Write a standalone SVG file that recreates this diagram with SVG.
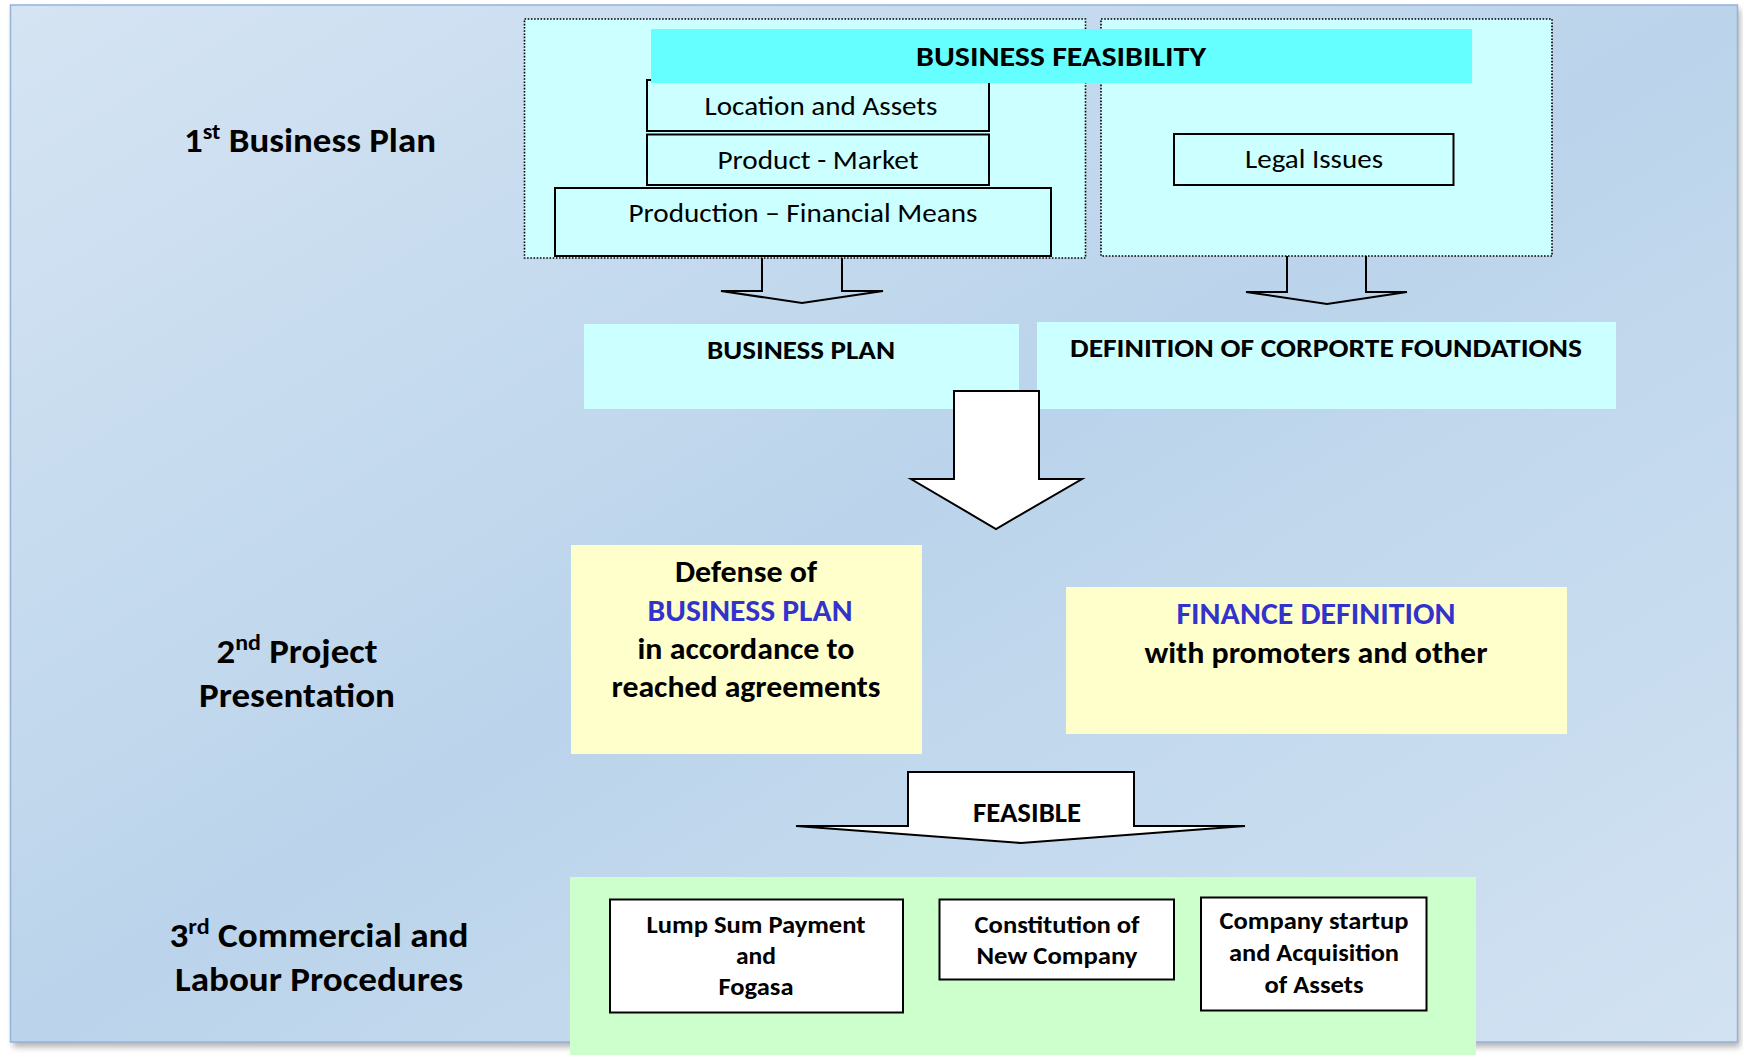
<svg xmlns="http://www.w3.org/2000/svg" width="1743" height="1055" viewBox="0 0 1743 1055">
<defs>
<linearGradient id="bg" x1="0" y1="0" x2="1" y2="1">
<stop offset="0" stop-color="#d5e4f3"/>
<stop offset="0.5" stop-color="#bbd4eb"/>
<stop offset="1" stop-color="#d2e2f2"/>
</linearGradient>
<filter id="sh" x="-5%" y="-5%" width="110%" height="110%">
<feGaussianBlur stdDeviation="3"/>
</filter>
<style>
text{font-family:Carlito,Calibri,Lato,"Liberation Sans",sans-serif;fill:#000;text-anchor:middle}
.b{font-weight:bold}
.blue{fill:#3333cc}
.dot{fill:#ccffff;stroke:#000;stroke-width:1.6;stroke-dasharray:1.6 1.6}
.box{fill:#ccffff;stroke:#000;stroke-width:2}
.wbox{fill:#fff;stroke:#000;stroke-width:2}
.arr{fill:none;stroke:#000;stroke-width:2;stroke-linejoin:miter}
.warr{fill:#fff;stroke:#000;stroke-width:2}
.sup{font-size:65%;baseline-shift:super}
</style>
</defs>
<g id="background">
<rect x="13" y="9" width="1727" height="1038" fill="#7f7f7f" opacity="0.6" filter="url(#sh)"/>
<rect x="10.5" y="5" width="1727" height="1037" fill="url(#bg)" stroke="#95b3d7" stroke-width="1.5"/>
</g>
<g id="stage-labels">
<text class="b" x="310" y="152" font-size="34" textLength="252" lengthAdjust="spacingAndGlyphs">1<tspan class="sup">st</tspan> Business Plan</text>
<text class="b" x="297" y="663" font-size="34" textLength="161" lengthAdjust="spacingAndGlyphs">2<tspan class="sup">nd</tspan> Project</text>
<text class="b" x="297" y="707" font-size="34" textLength="196" lengthAdjust="spacingAndGlyphs">Presentation</text>
<text class="b" x="319" y="947" font-size="34" textLength="299" lengthAdjust="spacingAndGlyphs">3<tspan class="sup">rd</tspan> Commercial and</text>
<text class="b" x="319" y="991" font-size="34" textLength="288" lengthAdjust="spacingAndGlyphs">Labour Procedures</text>
</g>
<g id="feasibility-left">
<rect class="dot" x="524.5" y="19" width="561" height="239"/>
</g>
<g id="feasibility-right">
<rect class="dot" x="1101" y="19" width="451" height="237"/>
</g>
<g id="location-assets">
<rect class="box" x="647" y="80" width="342" height="51"/>
<text x="821" y="115" font-size="27" textLength="233" lengthAdjust="spacingAndGlyphs">Location and Assets</text>
</g>
<g id="business-feasibility">
<rect x="651" y="29" width="821" height="54" fill="#66ffff"/>
<text class="b" x="1061" y="66" font-size="29" textLength="290" lengthAdjust="spacingAndGlyphs">BUSINESS FEASIBILITY</text>
</g>
<g id="product-market">
<rect class="box" x="647" y="134.5" width="342" height="50.5"/>
<text x="818" y="169" font-size="27" textLength="201" lengthAdjust="spacingAndGlyphs">Product - Market</text>
</g>
<g id="production-financial">
<rect class="box" x="555" y="188" width="496" height="68"/>
<text x="803" y="222" font-size="27" textLength="349" lengthAdjust="spacingAndGlyphs">Production – Financial Means</text>
</g>
<g id="legal-issues">
<rect class="box" x="1174" y="134" width="279.5" height="51"/>
<text x="1314" y="168" font-size="27" textLength="138" lengthAdjust="spacingAndGlyphs">Legal Issues</text>
</g>
<g id="business-plan">
<rect x="584" y="324" width="435" height="85" fill="#ccffff"/>
<text class="b" x="801" y="359" font-size="26" textLength="188" lengthAdjust="spacingAndGlyphs">BUSINESS PLAN</text>
</g>
<g id="corporate-foundations">
<rect x="1037" y="322" width="579" height="87" fill="#ccffff"/>
<text class="b" x="1326" y="357" font-size="26" textLength="512" lengthAdjust="spacingAndGlyphs">DEFINITION OF CORPORTE FOUNDATIONS</text>
</g>
<g id="defense">
<rect x="571" y="545" width="351" height="209" fill="#ffffcc"/>
<text class="b" x="746" y="582" font-size="31" textLength="142" lengthAdjust="spacingAndGlyphs">Defense of</text>
<text class="b blue" x="750" y="621" font-size="31" textLength="205" lengthAdjust="spacingAndGlyphs">BUSINESS PLAN</text>
<text class="b" x="746" y="659" font-size="31" textLength="217" lengthAdjust="spacingAndGlyphs">in accordance to</text>
<text class="b" x="746" y="697" font-size="31" textLength="269" lengthAdjust="spacingAndGlyphs">reached agreements</text>
</g>
<g id="finance">
<rect x="1066" y="587" width="501" height="147" fill="#ffffcc"/>
<text class="b blue" x="1316" y="624" font-size="31" textLength="279" lengthAdjust="spacingAndGlyphs">FINANCE DEFINITION</text>
<text class="b" x="1316" y="663" font-size="31" textLength="343" lengthAdjust="spacingAndGlyphs">with promoters and other</text>
</g>
<g id="procedures">
<rect x="570" y="877" width="906" height="178" fill="#ccffcc"/>
</g>
<g id="lump-sum">
<rect class="wbox" x="610" y="899.5" width="293" height="113"/>
<text class="b" x="756" y="933" font-size="25" textLength="219" lengthAdjust="spacingAndGlyphs">Lump Sum Payment</text>
<text class="b" x="756" y="964" font-size="25" textLength="40" lengthAdjust="spacingAndGlyphs">and</text>
<text class="b" x="756" y="995" font-size="25" textLength="75" lengthAdjust="spacingAndGlyphs">Fogasa</text>
</g>
<g id="constitution">
<rect class="wbox" x="939.5" y="899.5" width="234.5" height="80"/>
<text class="b" x="1057" y="933" font-size="25" textLength="165" lengthAdjust="spacingAndGlyphs">Constitution of</text>
<text class="b" x="1057" y="964" font-size="25" textLength="161" lengthAdjust="spacingAndGlyphs">New Company</text>
</g>
<g id="startup">
<rect class="wbox" x="1201" y="897.5" width="225.5" height="113"/>
<text class="b" x="1314" y="929" font-size="25" textLength="189" lengthAdjust="spacingAndGlyphs">Company startup</text>
<text class="b" x="1314" y="961" font-size="25" textLength="170" lengthAdjust="spacingAndGlyphs">and Acquisition</text>
<text class="b" x="1314" y="993" font-size="25" textLength="99" lengthAdjust="spacingAndGlyphs">of Assets</text>
</g>
<g id="connectors">
<path class="arr" d="M762,258 V291 H721 L802,303 L883,291 H842 V258"/>
<path class="arr" d="M1287,256 V292 H1246 L1327,304 L1407,292 H1366 V256"/>
<polygon class="warr" points="954,391 1039,391 1039,479 1082,479 996,529 911,479 954,479"/>
<polygon class="warr" points="908,772 1134,772 1134,826 1245,826 1021,843 796,826 908,826"/>
<text class="b" x="1027" y="822" font-size="28" textLength="108" lengthAdjust="spacingAndGlyphs">FEASIBLE</text>
</g>
</svg>
